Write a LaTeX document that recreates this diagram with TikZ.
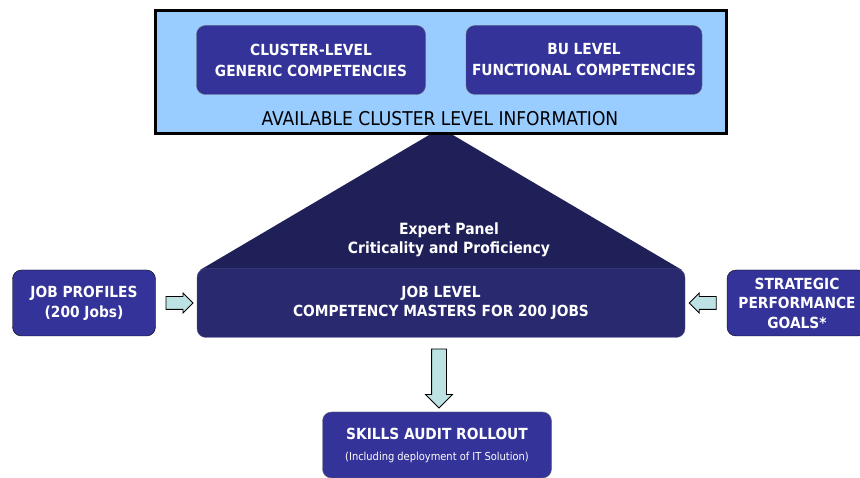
\documentclass[tikz,border=0pt]{standalone}
\usepackage{fontspec}
\setmainfont{DejaVu Sans Condensed}
\usetikzlibrary{shapes.arrows,calc}

\definecolor{panelblue}{HTML}{333399}
\definecolor{masterblue}{HTML}{29296F}
\definecolor{navy}{HTML}{202058}
\definecolor{skyfill}{HTML}{99CCFF}
\definecolor{arrowfill}{HTML}{BCE2E4}

\begin{document}
\begin{tikzpicture}[x=1pt, y=-1pt,
  bluebox/.style={rectangle, rounded corners=9pt, draw=black!60, fill=panelblue, text=white, font=\bfseries\fontsize{15.3}{20}\selectfont, align=center},
  blockarrow/.style={single arrow, draw=black, fill=arrowfill, line width=0.8pt, single arrow head extend=3.5pt, inner sep=6pt}]
  \useasboundingbox (0,0) rectangle (860,478);

  % expert panel behind everything
  \fill[navy] (200,270) -- (441,128) -- (682,270) -- cycle;
  \node (panel) at (449,240) [text=white, font=\bfseries\fontsize{15.5}{19}\selectfont, align=center] {Expert Panel\\Criticality and Proficiency};

  \node[rectangle, draw=black, line width=3pt, fill=skyfill, minimum width=571pt, minimum height=123pt] (info) at (441,72) {};
  \node[bluebox, font=\bfseries\fontsize{15.3}{21}\selectfont, minimum width=229pt, minimum height=69pt] (clustergen) at (311,60) {CLUSTER-LEVEL\\GENERIC COMPETENCIES};
  \node[bluebox, font=\bfseries\fontsize{15.3}{21}\selectfont, minimum width=236pt, minimum height=69pt] (bufunc) at (584,60) {BU LEVEL\\FUNCTIONAL COMPETENCIES};
  \node (available) at (440,119) [font=\fontsize{19}{22}\selectfont] {AVAILABLE CLUSTER LEVEL INFORMATION};

  \node[bluebox, fill=masterblue, draw=masterblue!80!white, font=\bfseries\fontsize{15.3}{18.5}\selectfont, minimum width=488pt, minimum height=69pt] (jobmaster) at (441,303) {JOB LEVEL\\COMPETENCY MASTERS FOR 200 JOBS};
  \node[bluebox, draw=black, minimum width=143pt, minimum height=66pt] (profiles) at (84,303) {JOB PROFILES\\(200 Jobs)};
  \node[bluebox, draw=black, font=\bfseries\fontsize{15.3}{19.5}\selectfont, minimum width=140pt, minimum height=66pt] (goals) at (797,303) {STRATEGIC\\PERFORMANCE\\GOALS*};
  \node[bluebox, minimum width=229pt, minimum height=66pt] (rollout) at (437,445) {SKILLS AUDIT ROLLOUT\\[1pt]{\mdseries\fontsize{11}{13}\selectfont (Including deployment of IT Solution)}};

  \node[blockarrow, minimum height=27pt] (toleft) at ($(profiles.east)!0.5!(jobmaster.west)$) {};
  \node[blockarrow, shape border rotate=180, minimum height=27pt] (toright) at ($(jobmaster.east)!0.5!(goals.west)$) {};
  \node[blockarrow, shape border rotate=270, minimum height=59pt, inner sep=7pt, single arrow head extend=6pt] (todown) at ($(jobmaster.south)!0.5!(rollout.north)$) {};
\end{tikzpicture}
\end{document}
